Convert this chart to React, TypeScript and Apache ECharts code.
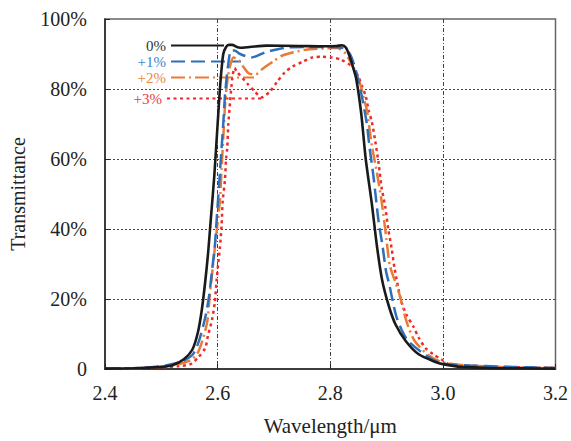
import React, { useEffect, useRef } from "react";
import * as echarts from "echarts";

const FONT = "'Liberation Serif', 'DejaVu Serif', serif";

const xTicks = [2.4, 2.6, 2.8, 3.0, 3.2];
const yTicks = [0, 20, 40, 60, 80, 100];
const seriesNames = ["0%", "+1%", "+2%", "+3%"];

const wl0 = [2.40, 2.45, 2.48, 2.50, 2.52, 2.54, 2.555, 2.565, 2.572, 2.578, 2.583, 2.588, 2.594, 2.600, 2.605, 2.610, 2.615, 2.620, 2.626, 2.633, 2.640, 2.657, 2.687, 2.745, 2.790, 2.811, 2.821, 2.828, 2.834, 2.840, 2.846, 2.855, 2.863, 2.874, 2.883, 2.892, 2.904, 2.916, 2.934, 2.957, 2.987, 3.000, 3.033, 3.08, 3.14, 3.2];
const t0 = [0.1, 0.2, 0.4, 0.6, 1.1, 2.8, 5.5, 10.5, 17, 25, 33, 43, 55, 70, 82, 90, 92, 92.6, 92.6, 92.1, 91.8, 92, 92.4, 92.3, 92.2, 92.3, 92.5, 91.8, 89.5, 86.5, 83, 73, 60, 47, 35, 25.5, 18, 12.7, 8, 4.2, 2, 1.4, 0.6, 0.3, 0.2, 0.1];

const wl1 = [2.40, 2.46, 2.50, 2.534, 2.555, 2.566, 2.578, 2.585, 2.590, 2.595, 2.598, 2.601, 2.604, 2.607, 2.610, 2.613, 2.618, 2.624, 2.630, 2.640, 2.660, 2.685, 2.720, 2.760, 2.800, 2.822, 2.835, 2.846, 2.856, 2.865, 2.870, 2.876, 2.881, 2.886, 2.893, 2.899, 2.905, 2.918, 2.936, 2.969, 2.997, 3.05, 3.10, 3.15, 3.2];
const t1 = [0.1, 0.3, 0.8, 2, 4, 7.6, 14.7, 21, 28, 35, 42, 49, 56, 63, 70, 78, 86, 91, 91, 90, 89, 90.5, 91.8, 92, 92, 91.8, 90, 85, 78, 70, 63, 56, 49, 42, 35, 28, 24, 14.7, 8.5, 4, 1.6, 1, 0.7, 0.5, 0.3];

const wl2 = [2.40, 2.47, 2.52, 2.552, 2.566, 2.581, 2.586, 2.592, 2.598, 2.604, 2.607, 2.610, 2.613, 2.617, 2.622, 2.628, 2.636, 2.645, 2.655, 2.668, 2.680, 2.700, 2.714, 2.735, 2.760, 2.790, 2.812, 2.825, 2.835, 2.845, 2.853, 2.860, 2.865, 2.874, 2.883, 2.892, 2.900, 2.906, 2.922, 2.936, 2.950, 2.974, 2.997, 3.03, 3.1, 3.2];
const t2 = [0.1, 0.3, 1, 2.5, 5, 13, 21, 30, 39, 48, 57, 66, 75, 82, 86.5, 89, 88.5, 86.5, 84.5, 84.2, 85.8, 88, 89.5, 90.5, 91.3, 91.6, 91.7, 90.5, 88, 84.5, 81.5, 77, 74, 63.7, 56, 47, 36.8, 29.5, 21.8, 13.3, 8, 4, 2, 1.2, 0.6, 0.3];

const wl3 = [2.40, 2.48, 2.53, 2.552, 2.566, 2.578, 2.583, 2.590, 2.595, 2.598, 2.601, 2.604, 2.607, 2.609, 2.613, 2.615, 2.617, 2.619, 2.622, 2.626, 2.630, 2.634, 2.653, 2.666, 2.678, 2.693, 2.705, 2.719, 2.733, 2.751, 2.768, 2.786, 2.803, 2.819, 2.839, 2.850, 2.856, 2.863, 2.868, 2.874, 2.880, 2.886, 2.891, 2.898, 2.903, 2.909, 2.914, 2.925, 2.935, 2.948, 2.957, 2.969, 2.983, 2.997, 3.010, 3.033, 3.1, 3.2];
const t3 = [0.1, 0.3, 0.8, 1.4, 3.4, 6, 9.6, 14, 19, 25, 30, 34.5, 41, 48, 54, 60, 63, 70, 76, 83, 86, 85, 81.5, 79.3, 77.6, 79.3, 81.9, 84.7, 86.4, 87.8, 89, 89.2, 89, 88.4, 86.4, 83.5, 81, 78, 74, 70.5, 65, 58.6, 52, 46, 40, 34.5, 29, 20, 15.6, 12, 9, 6, 4.2, 2.8, 1.4, 1.0, 0.6, 0.3];

const colors = ["#1a1a1a", "#2e6fba", "#ea7b35", "#ee2a2a"];
const textColors = ["#333333", "#3a86c8", "#e8873e", "#e83c3c"];
const dashTypes: any[] = ["solid", [14, 6], [14, 4, 2, 4], [3, 3.5]];

const zip = (xs: number[], ys: number[]) => xs.map((x, i) => [x, ys[i]]);

export default function App() {
  const ref = useRef<HTMLDivElement>(null);
  useEffect(() => {
    if (!ref.current) return;
    const chart = echarts.init(ref.current, undefined, { renderer: "svg" });
    const datasets = [zip(wl0, t0), zip(wl1, t1), zip(wl2, t2), zip(wl3, t3)];
    const legendPos = [
      { right: 346, top: 38, itemWidth: 53 },
      { right: 329, top: 54, itemWidth: 70 },
      { right: 316, top: 70, itemWidth: 83 },
      { right: 309, top: 91, itemWidth: 94 },
    ];
    const option: any = {
      animation: false,
      grid: {
        left: 104,
        right: 13,
        top: 19,
        bottom: 69,
        show: true,
        borderColor: "#666",
        borderWidth: 1.5,
        backgroundColor: "transparent",
      },
      legend: seriesNames.map((n, i) => ({
        data: [n],
        right: legendPos[i].right,
        top: legendPos[i].top,
        itemWidth: legendPos[i].itemWidth,
        itemHeight: 14,
        align: "right",
        padding: 0,
        selectedMode: false,
        itemStyle: { opacity: 0 },
        textStyle: { fontFamily: FONT, fontSize: 15, lineHeight: 13, color: textColors[i] },
      })),
      xAxis: {
        type: "value",
        min: xTicks[0],
        max: xTicks[xTicks.length - 1],
        interval: 0.2,
        name: "Wavelength/μm",
        nameLocation: "middle",
        nameGap: 46,
        nameTextStyle: { fontFamily: FONT, fontSize: 21, color: "#222" },
        axisLine: { show: true, lineStyle: { color: "#222", width: 1.5 } },
        axisTick: { show: true, inside: true, length: 5, lineStyle: { color: "#222" } },
        axisLabel: {
          fontFamily: FONT,
          fontSize: 20,
          color: "#222",
          margin: 14,
          formatter: (v: number) => v.toFixed(1),
        },
        splitLine: {
          show: true,
          showMinLine: false,
          showMaxLine: false,
          lineStyle: { color: "#444", width: 1, type: [4, 2, 1, 2] },
        },
      },
      yAxis: {
        type: "value",
        min: yTicks[0],
        max: yTicks[yTicks.length - 1],
        interval: 20,
        name: "Transmittance",
        nameLocation: "middle",
        nameGap: 77,
        nameTextStyle: { fontFamily: FONT, fontSize: 20, color: "#222" },
        axisLine: { show: true, lineStyle: { color: "#222", width: 1.5 } },
        axisTick: { show: true, inside: true, length: 5, lineStyle: { color: "#222" } },
        axisLabel: {
          fontFamily: FONT,
          fontSize: 20,
          color: "#222",
          margin: 18,
          formatter: (v: number) => (v === 0 ? "0" : v + "%"),
        },
        splitLine: {
          show: true,
          showMinLine: false,
          showMaxLine: false,
          lineStyle: { color: "#444", width: 1, type: [2, 2] },
        },
      },
      series: seriesNames.map((n, i) => ({
        name: n,
        type: "line",
        data: datasets[i],
        symbol: "none",
        smooth: 0.25,
        lineStyle: { color: colors[i], width: i === 0 ? 2.6 : 2.5, type: dashTypes[i], cap: "butt" },
        itemStyle: { color: colors[i] },
        z: 10 - i,
      })),
    };
    chart.setOption(option);
    return () => chart.dispose();
  }, []);
  return (
    <div
      ref={ref}
      style={{ position: "absolute", left: 0, top: 0, width: 571, height: 441, background: "#fff" }}
    />
  );
}
